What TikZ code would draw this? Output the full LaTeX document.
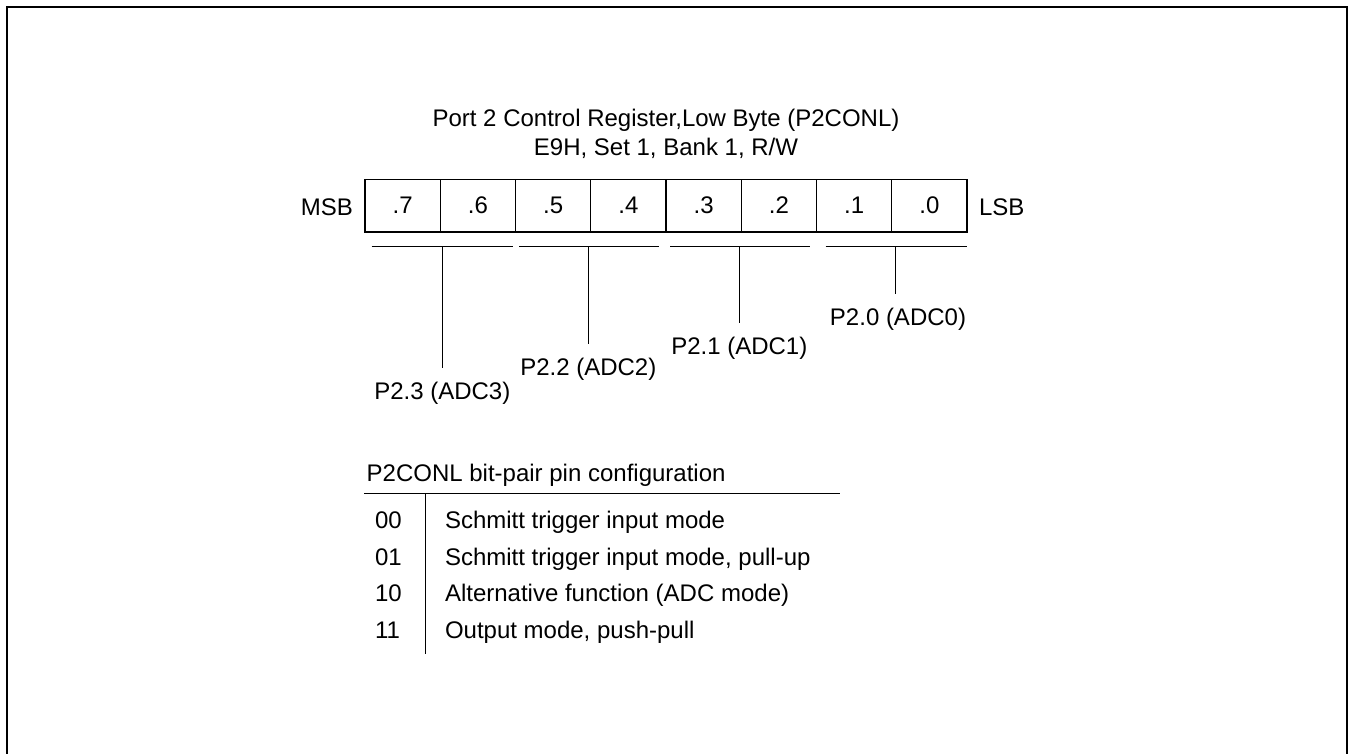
\documentclass[tikz,border=0pt]{standalone}
\usepackage{fontspec}
\setmainfont{Liberation Sans}
\begin{document}
\begin{tikzpicture}[x=1pt,y=-1pt,
  txt/.style={inner sep=0pt,outer sep=0pt,font=\fontsize{24}{29}\selectfont},
  cell/.style={draw,line width=1.3pt,minimum width=75.25pt,minimum height=52.7pt,inner sep=0pt,font=\fontsize{24}{29}\selectfont},
  ln/.style={line width=1.1pt},
  frame/.style={line width=2pt}]
\useasboundingbox (0,0) rectangle (1349,753);
% frame (bottom edge lies outside the picture)
\draw[frame] (7,760) -- (7,7) -- (1347,7) -- (1347,760);
% title
\node[txt,anchor=base] (t1) at (666,126.7) {Port 2 Control Register,Low Byte (P2CONL)};
\node[txt,anchor=base] (t2) at (666,155.7) {E9H, Set 1, Bank 1, R/W};
% register cells
\foreach \b [count=\i from 0] in {7,6,5,4,3,2,1,0}{
  \node[cell] (c\b) at ({365+75.25*(\i+0.5)},205.5) {.\b};
}
\node[txt,anchor=base east] (msb) at (353,215) {MSB};
\node[txt,anchor=base west] (lsb) at (979,215) {LSB};
% bracket segments
\coordinate (s3a) at (371.7,246.7); \coordinate (s3b) at (512.7,246.7); \coordinate (s3) at (442.3,246.7);
\coordinate (s2a) at (519,246.7);   \coordinate (s2b) at (659.3,246.7); \coordinate (s2) at (588.3,246.7);
\coordinate (s1a) at (670,246.7);   \coordinate (s1b) at (810,246.7);   \coordinate (s1) at (739.3,246.7);
\coordinate (s0a) at (825.7,246.7); \coordinate (s0b) at (966.7,246.7); \coordinate (s0) at (895.7,246.7);
\draw[ln] (s3a) -- (s3b);
\draw[ln] (s2a) -- (s2b);
\draw[ln] (s1a) -- (s1b);
\draw[ln] (s0a) -- (s0b);
% labels
\node[txt,anchor=base] (p23) at (442.3,399.3) {P2.3 (ADC3)};
\node[txt,anchor=base] (p22) at (588.3,375) {P2.2 (ADC2)};
\node[txt,anchor=base] (p21) at (739.3,354) {P2.1 (ADC1)};
\node[txt,anchor=base] (p20) at (898,325.7) {P2.0 (ADC0)};
\coordinate (e3) at ([yshift=14pt]p23.north);
\coordinate (e2) at ([yshift=14pt]p22.north);
\coordinate (e1) at ([yshift=14pt]p21.north);
\coordinate (e0) at ([yshift=14pt]p20.north);
\draw[ln] (s3) -- (s3 |- e3);
\draw[ln] (s2) -- (s2 |- e2);
\draw[ln] (s1) -- (s1 |- e1);
\draw[ln] (s0) -- (s0 |- e0);
% configuration table
\node[txt,anchor=base west] (hdr) at (366.7,481.7) {P2CONL bit-pair pin configuration};
\coordinate (hl) at (364,493.3); \coordinate (hr) at (840,493.3);
\coordinate (vt) at (425.7,493.3); \coordinate (vb) at (425.7,654.3);
\draw[ln] (hl) -- (hr);
\draw[ln] (vt) -- (vb);
\node[txt,anchor=base west] (k0) at (375,528.3) {00};
\node[txt,anchor=base west] (k1) at (375,565) {01};
\node[txt,anchor=base west] (k2) at (375,601.7) {10};
\node[txt,anchor=base west] (k3) at (375,638.3) {11};
\node[txt,anchor=base west] (d0) at (445,528.3) {Schmitt trigger input mode};
\node[txt,anchor=base west] (d1) at (445,565) {Schmitt trigger input mode, pull-up};
\node[txt,anchor=base west] (d2) at (445,601.7) {Alternative function (ADC mode)};
\node[txt,anchor=base west] (d3) at (445,638.3) {Output mode, push-pull};
\end{tikzpicture}
\end{document}
